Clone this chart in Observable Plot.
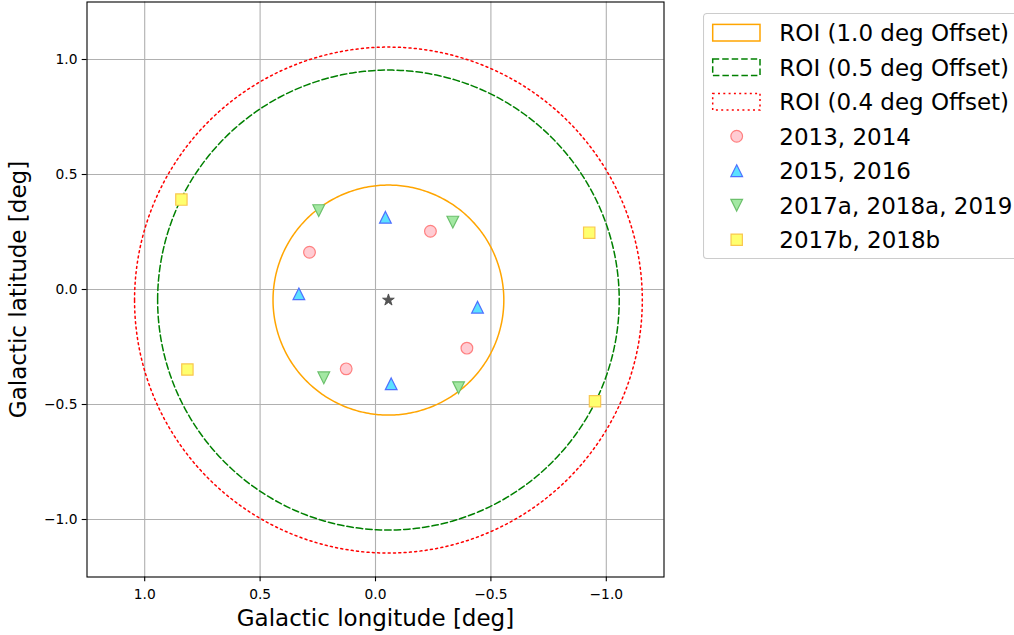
<!DOCTYPE html>
<html><head><meta charset="utf-8">
<script src="https://cdn.jsdelivr.net/npm/d3@7"></script>
<script src="https://cdn.jsdelivr.net/npm/@observablehq/plot@0.6"></script>
<style>
body{margin:0;background:#fff;overflow:hidden;font-family:"DejaVu Sans",sans-serif;}
#wrap{position:relative;width:1014px;height:635px;overflow:hidden;}
#chart{position:absolute;left:0;top:0;}
#legend{position:absolute;left:703px;top:13px;}
</style></head><body>
<div id="wrap"><div id="chart"></div><svg id="legend" width="311" height="247"></svg></div>
<script>
// ---- data ----
const sourceLon = [-0.056];
const sourceLat = [-0.046];
const roiLabels = ["ROI (1.0 deg Offset)", "ROI (0.5 deg Offset)", "ROI (0.4 deg Offset)"];
const roiRadius = [0.5, 1.0, 1.1];
const seriesLabels = ["2013, 2014", "2015, 2016", "2017a, 2018a, 2019", "2017b, 2018b"];
const lonA = [0.286, -0.238, 0.127, -0.396];
const latA = [0.162, 0.253, -0.345, -0.255];
const lonB = [0.332, -0.043, -0.442, -0.068];
const latB = [-0.019, 0.314, -0.077, -0.410];
const lonC = [0.246, -0.335, 0.224, -0.360];
const latC = [0.343, 0.293, -0.384, -0.427];
const lonD = [0.841, -0.926, 0.815, -0.951];
const latD = [0.391, 0.247, -0.348, -0.486];
const tickValues = [-1.0, -0.5, 0.0, 0.5, 1.0];
const xLabel = "Galactic longitude [deg]";
const yLabel = "Galactic latitude [deg]";

// ---- symbols (centered on bounding box like matplotlib) ----
const symCircle = {draw(c, s){const h=Math.sqrt(s/Math.PI); c.moveTo(h,0); c.arc(0,0,h,0,2*Math.PI);}};
const symTriUp = {draw(c, s){const h=Math.sqrt(s/Math.PI); c.moveTo(0,-h); c.lineTo(h,h); c.lineTo(-h,h); c.closePath();}};
const symTriDown = {draw(c, s){const h=Math.sqrt(s/Math.PI); c.moveTo(0,h); c.lineTo(h,-h); c.lineTo(-h,-h); c.closePath();}};
const symSquare = {draw(c, s){const h=Math.sqrt(s/Math.PI)*0.97; c.moveTo(-h,-h); c.lineTo(h,-h); c.lineTo(h,h); c.lineTo(-h,h); c.closePath();}};
const symStar = {draw(c, s){const R=Math.sqrt(s/Math.PI), r=R*0.381966;
  for(let i=0;i<10;i++){const a=-Math.PI/2+i*Math.PI/5, rr=i%2?r:R, x=rr*Math.cos(a), y=rr*Math.sin(a); if(i) c.lineTo(x,y); else c.moveTo(x,y);} c.closePath();}};

// ---- styles ----
const roiStyles = [
  {stroke:"#ffa500", dash:null},
  {stroke:"#008000", dash:"6.5,3"},
  {stroke:"#ff0000", dash:"2,3.3"}
];
const seriesStyles = [
  {symbol:symCircle, fill:"#ffccd3", stroke:"#ff8080", r:5.85},
  {symbol:symTriUp, fill:"#5ce1ff", stroke:"#4d70ff", r:5.85},
  {symbol:symTriDown, fill:"#a3e8a3", stroke:"#6cc06c", r:5.85},
  {symbol:symSquare, fill:"#ffff6e", stroke:"#f9c74f", r:5.85}
];
const seriesLon = [lonA, lonB, lonC, lonD];
const seriesLat = [latA, latB, latC, latD];

// ring outlines around the source position
const ringMarks = roiRadius.map((rad, k) => {
  const pts = d3.range(0, 361, 1).map(deg => ({
    x: sourceLon[0] + rad*Math.cos(deg*Math.PI/180),
    y: sourceLat[0] + rad*Math.sin(deg*Math.PI/180)
  }));
  return Plot.line(pts, {x:"x", y:"y", stroke:roiStyles[k].stroke, strokeWidth:1.5,
    strokeDasharray:roiStyles[k].dash || undefined, curve:"linear"});
});

const dotMarks = seriesLabels.map((lab, k) => {
  const st = seriesStyles[k];
  const rows = seriesLon[k].map((lon, i) => ({lon, lat: seriesLat[k][i]}));
  return Plot.dot(rows, {x:"lon", y:"lat", symbol:st.symbol, r:st.r, fill:st.fill, stroke:st.stroke, strokeWidth:1.2});
});

const srcRows = sourceLon.map((lon, i) => ({lon, lat: sourceLat[i]}));
const fmt = d3.format(".1f");
const W=1014, H=635, mL=86.5, mR=350.5, mT=1.5, mB=58.5;

const chart = Plot.plot({
  width: W, height: H,
  marginLeft: mL, marginRight: mR, marginTop: mT, marginBottom: mB,
  style: {fontFamily: "DejaVu Sans", fontSize: "13.8px", color: "#000", background: "#fff", overflow: "visible"},
  x: {domain: [1.25, -1.25]},
  y: {domain: [-1.25, 1.25]},
  marks: [
    Plot.gridX(tickValues, {stroke:"#b0b0b0", strokeOpacity:1, strokeWidth:1.1}),
    Plot.gridY(tickValues, {stroke:"#b0b0b0", strokeOpacity:1, strokeWidth:1.1}),
    ...ringMarks,
    ...dotMarks,
    Plot.dot(srcRows, {x:"lon", y:"lat", symbol:symStar, r:6.15, fill:"#555555", stroke:"#444444", strokeWidth:0.8}),
    Plot.frame({stroke:"#000", strokeWidth:1.1}),
    Plot.axisX(tickValues, {tickFormat: fmt, tickSize: 4.8, tickPadding: 7.5, label: null, stroke:"#000", strokeWidth:1.1}),
    Plot.axisY(tickValues, {tickFormat: fmt, tickSize: 4.8, tickPadding: 4.7, label: null, stroke:"#000", strokeWidth:1.1}),
    Plot.text([xLabel], {text: d => d, frameAnchor: "bottom", textAnchor: "middle", lineAnchor: "middle", dy: 42, fontSize: 23, fill:"#000"}),
    Plot.text([yLabel], {text: d => d, frameAnchor: "left", textAnchor: "middle", lineAnchor: "middle", rotate: -90, dx: -68, fontSize: 23, fill:"#000"})
  ]
});
document.getElementById("chart").appendChild(chart);

// ---- legend ----
const lg = d3.select("#legend");
lg.append("rect").attr("x",0.5).attr("y",0.5).attr("width",340).attr("height",245).attr("rx",3.5)
  .attr("fill","#fff").attr("fill-opacity",0.8).attr("stroke","#cccccc").attr("stroke-width",1.1);
const rowY = i => 19.7 + i*34.5;
roiLabels.forEach((lab, k) => {
  const y = rowY(k);
  lg.append("rect").attr("x",9.7).attr("y",y-8.3).attr("width",47.3).attr("height",16.6)
    .attr("fill","none").attr("stroke",roiStyles[k].stroke).attr("stroke-width",1.5)
    .attr("stroke-dasharray",roiStyles[k].dash);
  lg.append("text").attr("x",76.3).attr("y",y+8.3).attr("font-size","23px").attr("font-family","DejaVu Sans").attr("fill","#000").text(lab);
});
seriesLabels.forEach((lab, k) => {
  const y = rowY(k+3);
  const st = seriesStyles[k];
  lg.append("path").attr("transform",`translate(33.7,${y})`)
    .attr("d", d3.symbol(st.symbol, Math.PI*st.r*st.r)())
    .attr("fill",st.fill).attr("stroke",st.stroke).attr("stroke-width",1.2);
  lg.append("text").attr("x",76.3).attr("y",y+8.3).attr("font-size","23px").attr("font-family","DejaVu Sans").attr("fill","#000").text(lab);
});
</script>
</body></html>
